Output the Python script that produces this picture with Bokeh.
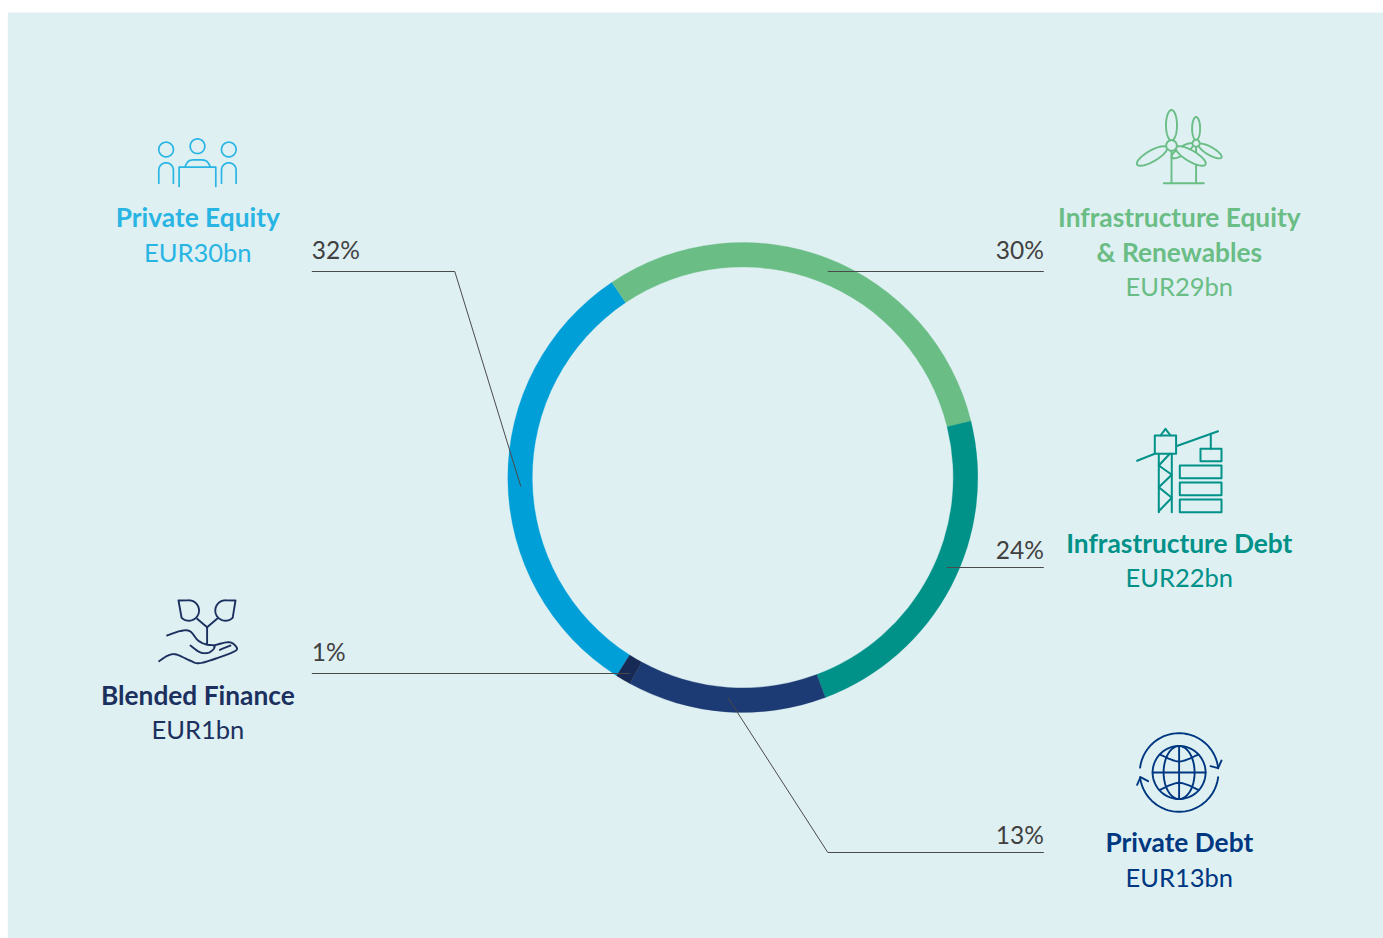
import numpy as np
from bokeh.core.properties import value
from bokeh.embed import file_html
from bokeh.models import Range1d
from bokeh.plotting import figure
from bokeh.resources import INLINE

# Portfolio split, clockwise from the left-hand segment
categories = ["Private Equity", "Infrastructure Equity", "Infrastructure Debt", "Private Debt", "Blended Finance"]
shares = [32, 30, 24, 13, 1]
amounts = [30, 29, 22, 13, 1]
ring_colors = ["#009fd8", "#69bd85", "#009188", "#1c3a73", "#172a55"]
label_colors = ["#29b5e3", "#69bd85", "#009188", "#003781", "#1c3060"]

W, H = 1383, 938
BG = "#dff0f3"
FONT = value("Lato")
CX, CY, R_OUT, R_IN = 743, 477, 235, 210.5
START_DEG = -147.5


def Y(y):
    return H - np.asarray(y, dtype=float)


p = figure(width=W, height=H, x_range=Range1d(0.7, W + 0.7), y_range=Range1d(0, H),
           output_backend="svg", toolbar_location=None, min_border=0,
           outline_line_color=None, background_fill_color="white")
p.axis.visible = False
p.grid.visible = False

p.quad(left=8, right=W + 2, bottom=0, top=H - 12, fill_color=BG, line_color=None)

# Ring segments, sized by the EUR amounts
edges = START_DEG + np.concatenate([[0], np.cumsum(amounts)]) / sum(amounts) * 360
for i, c in enumerate(ring_colors):
    p.annular_wedge(x=CX, y=Y(CY), inner_radius=R_IN, outer_radius=R_OUT,
                    start_angle=np.deg2rad(90 - edges[i]), end_angle=np.deg2rad(90 - edges[i + 1]),
                    direction="clock", fill_color=c, line_color=c, line_width=0.3)

# Leader lines
leaders = [
    ([312, 455, 521], [271, 271, 486]),
    ([828, 1044], [271, 271]),
    ([947, 1044], [567, 567]),
    ([728, 828, 1044], [697, 852, 852]),
    ([312, 630], [673, 673]),
]
for xs, ys in leaders:
    p.line(xs, Y(ys), line_color="#4a4a4a", line_width=1)


def label(x, y, s, color, bold=False, align="center", size=None):
    size = size or ("26.3px" if bold else "25.5px")
    p.text([x], [float(Y(y))], text=[s], text_color=color, text_font=FONT, text_font_size=size,
           text_align=align, text_baseline="alphabetic", text_font_style="bold" if bold else "normal")


# Percentage labels
pct_pos = [(312, 249, "left"), (1044, 249, "right"), (1044, 549, "right"), (1044, 834, "right"), (312, 651, "left")]
for sh, (x, y, al) in zip(shares, pct_pos):
    label(x, y, f"{sh}%", "#414141", align=al, size="24.5px")

# Category names and amounts
label(198, 216, categories[0], label_colors[0], True)
label(198, 251, f"EUR{amounts[0]}bn", label_colors[0])
label(1179.5, 216, categories[1], label_colors[1], True)
label(1179.5, 251, "& Renewables", label_colors[1], True)
label(1179.5, 285, f"EUR{amounts[1]}bn", label_colors[1])
label(1179.5, 542, categories[2], label_colors[2], True)
label(1179.5, 576, f"EUR{amounts[2]}bn", label_colors[2])
label(1179.5, 841, categories[3], label_colors[3], True)
label(1179.5, 876, f"EUR{amounts[3]}bn", label_colors[3])
label(198, 694, categories[4], label_colors[4], True)
label(198, 728, f"EUR{amounts[4]}bn", label_colors[4])


# Icon drawing helpers
def stroke(xs, ys, color, w=1.7):
    p.line(xs, Y(ys), line_color=color, line_width=w, line_join="round", line_cap="round")


def arc(cx, cy, r, a0, a1, n=48):
    t = np.deg2rad(np.linspace(a0, a1, n))
    return cx + r * np.sin(t), cy - r * np.cos(t)


def circle(cx, cy, r, color, w=1.7, fill=None):
    xs, ys = arc(cx, cy, r, 0, 360, 64)
    p.patch(xs, Y(ys), fill_color=fill or BG, fill_alpha=1 if fill else 0, line_color=color, line_width=w)


def blade(x0, y0, x1, y1, half, color, w=1.7):
    # Slim ellipse between two end points, filled so it hides what lies behind
    c = ((x0 + x1) / 2, (y0 + y1) / 2)
    a = np.hypot(x1 - x0, y1 - y0) / 2
    ang = np.arctan2(y1 - y0, x1 - x0)
    t = np.linspace(0, 2 * np.pi, 64)
    u, v = a * np.cos(t), half * np.sin(t)
    xs = c[0] + u * np.cos(ang) - v * np.sin(ang)
    ys = c[1] + u * np.sin(ang) + v * np.cos(ang)
    p.patch(xs, Y(ys), fill_color=BG, line_color=color, line_width=w)


def smooth(pts, steps=10):
    # Catmull-Rom through the outline points of a hand-drawn shape
    q = [pts[0]] + list(pts) + [pts[-1]]
    q = np.array(q, dtype=float)
    out = []
    for i in range(1, len(q) - 2):
        p0, p1, p2, p3 = q[i - 1], q[i], q[i + 1], q[i + 2]
        for t in np.linspace(0, 1, steps, endpoint=False):
            out.append(0.5 * (2 * p1 + (p2 - p0) * t + (2 * p0 - 5 * p1 + 4 * p2 - p3) * t ** 2
                              + (3 * p1 - p0 - 3 * p2 + p3) * t ** 3))
    out.append(q[-2])
    out = np.array(out)
    return out[:, 0], out[:, 1]


# People around a table
c = label_colors[0]
circle(166.3, 149, 7.3, c)
circle(197.7, 145.7, 7.3, c)
circle(229, 149, 7.3, c)
for x0 in (159, 221.7):
    ax, ay = arc(x0 + 7.3, 169.6, 7.3, -90, 90)
    stroke(np.r_[x0, ax, x0 + 14.6], np.r_[182.7, ay, 182.7], c)
stroke([179.3, 179.3, 216, 216], [186, 166.7, 166.7, 186], c)
hx, hy = smooth([(185, 166.7), (189, 160.5), (197.7, 159.3), (206.5, 160.5), (210.7, 166.7)])
stroke(hx, hy, c)

# Wind turbines
c = label_colors[1]
w = 1.9
stroke([1196.3, 1196.3], [147, 182.7], c, w)
stroke([1164, 1204], [182.7, 182.7], c, w)
blade(1196.3, 116.5, 1196.3, 139.5, 4, c, w)
blade(1199, 144, 1221.7, 157, 4, c, w)
blade(1193, 143.5, 1172, 157, 4, c, w)
circle(1196.3, 142.7, 3.5, c, w, fill=BG)
stroke([1171.7, 1171.7], [150, 182.7], c, w)
blade(1171.7, 109.5, 1171.7, 140, 5.5, c, w)
blade(1167, 147, 1137.3, 164, 5.5, c, w)
blade(1176.5, 147, 1205.7, 164, 5.5, c, w)
circle(1171.7, 145, 5.3, c, w, fill=BG)

# Crane and stacked blocks
c = label_colors[2]
w = 2
stroke([1155, 1176.3, 1176.3, 1155, 1155], [435, 435, 453.3, 453.3, 435], c, w)
stroke([1160.7, 1165.7, 1170.7], [435, 428.3, 435], c, w)
stroke([1137.3, 1155], [460.3, 453.3], c, w)
stroke([1176.3, 1218.3], [445.7, 430.7], c, w)
stroke([1211, 1211], [433.3, 448.3], c, w)
stroke([1159, 1159], [453.3, 511.7], c, w)
stroke([1172, 1172], [453.3, 511.7], c, w)
stroke([1170, 1159, 1172, 1159, 1172, 1159], [453.3, 465, 474.3, 486.7, 497.3, 510.7], c, w)
for x0, y0, y1 in [(1200.7, 448.3, 460.7), (1180, 465, 477.7), (1180, 482, 494.7), (1180, 499, 511.7)]:
    stroke([x0, 1221.7, 1221.7, x0, x0], [y0, y0, y1, y1, y0], c, w)

# Globe with circulating arrows
c = label_colors[3]
w = 1.9
gx, gy, gr = 1179.3, 772, 26.5
circle(gx, gy, gr, c, w)
t = np.linspace(0, 2 * np.pi, 64)
p.line(gx + 15.5 * np.cos(t), Y(gy + gr * np.sin(t)), line_color=c, line_width=w)
stroke([gx, gx], [gy - gr, gy + gr], c, w)
stroke([gx - gr, gx + gr], [gy, gy], c, w)
for y0, y1 in [(754.3, 761), (789, 782.3)]:
    lx, ly = smooth([(1160.7, y0), (gx, y1), (1198, y0)])
    stroke(lx, ly, c, w)
ax, ay = arc(gx, gy, 39.3, -83, 84)
stroke(ax, ay, c, w)
ax, ay = arc(gx, gy, 39.3, 97, 263)
stroke(ax, ay, c, w)
stroke([1210.7, 1218.3, 1221.7], [765.7, 767.7, 760], c, w)
stroke([1148.3, 1140.7, 1137.3], [780.7, 776.7, 784.3], c, w)

# Seedling on an open hand
c = label_colors[4]
w = 1.9
for corner, cen, a0, a1 in [((178.7, 600), (189, 610), -5, 225), ((235.7, 600), (225.7, 610), 5, -225)]:
    ax, ay = arc(cen[0], cen[1], 10.2, a0, a1)
    stroke(np.r_[corner[0], ax, corner[0]], np.r_[corner[1], ay, corner[1]], c, w)
stroke([197.3, 207.3, 217.3], [618.3, 626.7, 618.3], c, w)
stroke([207.3, 207.3], [626.7, 643.3], c, w)


def hand(pts):
    return smooth([(140 + a / 3, 590 + b / 3) for a, b in pts])


for pts in [
    [(82, 135), (120, 122), (150, 122), (175, 150), (200, 162), (222, 165), (222, 175), (205, 187), (180, 185), (152, 165)],
    [(222, 165), (268, 155), (290, 170), (285, 182), (240, 200), (180, 218), (150, 210), (110, 192), (85, 195), (58, 212)],
    [(240, 178), (272, 165)],
]:
    hx, hy = hand(pts)
    stroke(hx, hy, c, w)

open("out.html", "w").write(file_html(p, INLINE))
